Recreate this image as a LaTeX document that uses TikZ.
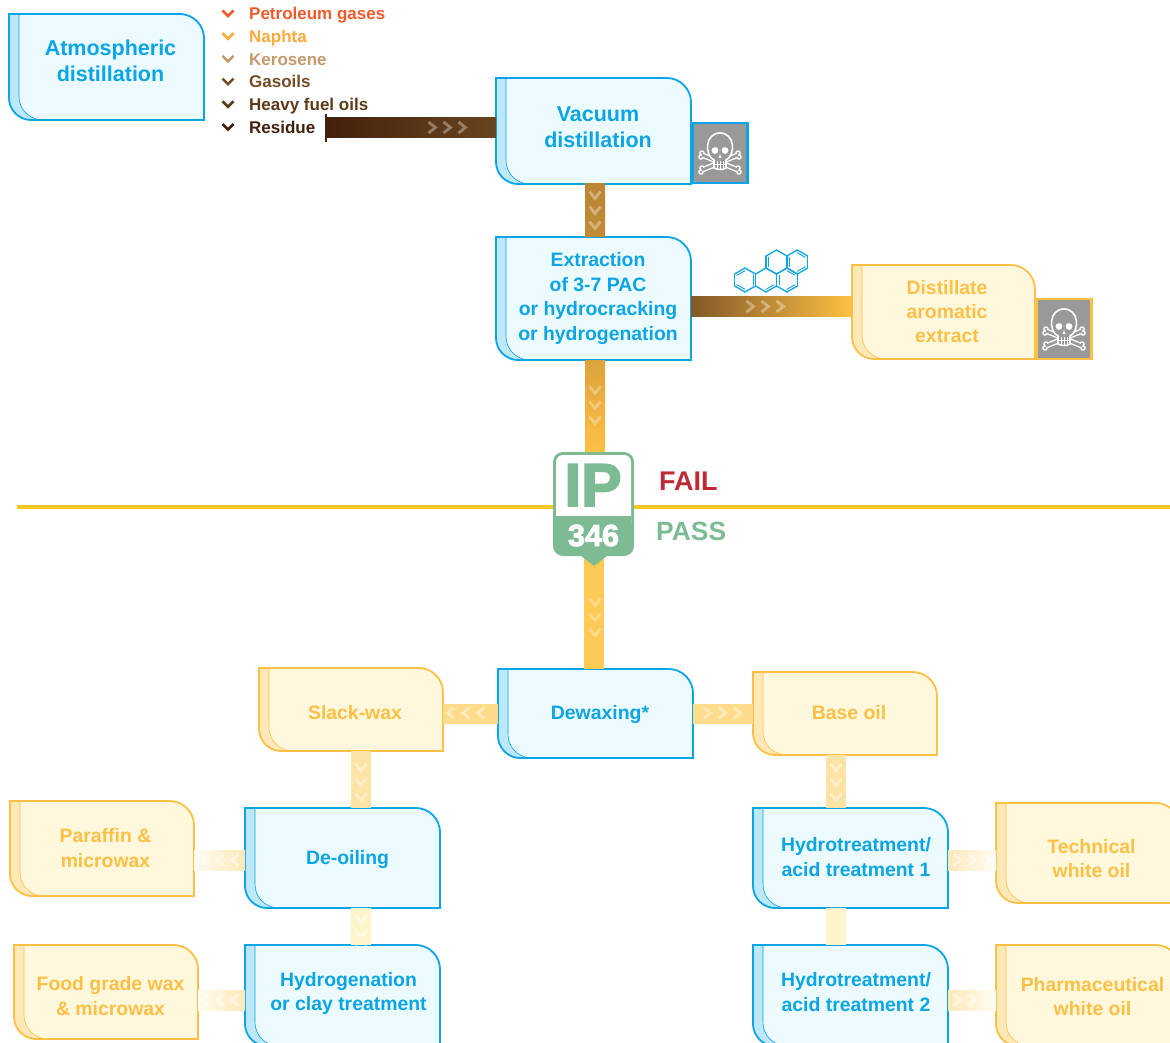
\documentclass[tikz,border=0pt]{standalone}
\usepackage{fontspec}
\setmainfont{Liberation Sans}
\newfontfamily\badgefont[BoldFeatures={FakeBold=3}]{Liberation Sans}
\usetikzlibrary{calc}
\definecolor{procline}{HTML}{0BA5E6}
\definecolor{procfill}{HTML}{EBFBFF}
\definecolor{procspine}{HTML}{BDE8FA}
\definecolor{prodline}{HTML}{FEC044}
\definecolor{prodfill}{HTML}{FFF8DC}
\definecolor{prodspine}{HTML}{FEE8B8}
\definecolor{passgreen}{HTML}{7DBB95}
\definecolor{failred}{HTML}{BE2A35}
\definecolor{cutyellow}{HTML}{FCC622}
\definecolor{skullgray}{HTML}{999999}
\definecolor{gases}{HTML}{F15A2B}
\definecolor{naphta}{HTML}{FBAA3B}
\definecolor{kerosene}{HTML}{C49A6C}
\definecolor{gasoils}{HTML}{754C24}
\definecolor{heavyoil}{HTML}{5C3A17}
\definecolor{residue}{HTML}{42210B}
\definecolor{flowmain}{HTML}{FDCB55}
\definecolor{flowside}{HTML}{FEDC8C}
\definecolor{flowwax}{HTML}{FEE3A6}
\definecolor{flowpale}{HTML}{FFF5CC}
\tikzset{
    bigtext/.style={font=\bfseries\fontsize{21.5}{26}\selectfont},
    smalltext/.style={font=\bfseries\fontsize{19.4}{24.4}\selectfont},
    listtext/.style={font=\bfseries\fontsize{17}{20}\selectfont,anchor=base west,inner sep=0pt},
    boxtext/.style={align=center,inner sep=0pt},
    flowbar/.style={line width=20pt},
    benzring/.style={draw=procline,line width=1.3pt,line cap=round},
    chevs/.pic={
        \foreach \d in {-15,0,15}
            \draw[pic actions] (\d-3.5,-5.5) -- (\d+3.5,0) -- (\d-3.5,5.5);
    },
    skull/.pic={
        \foreach \s in {-1,1}
        {
            \fill[white] (-18*\s,0) circle (2.8) (-19*\s,4) circle (2.8) (18*\s,15) circle (2.8) (19*\s,19) circle (2.8);
            \draw[white,line width=5.4pt] (-18*\s,2) -- (18*\s,17);
        }
        \foreach \s in {-1,1}
        {
            \fill[skullgray] (-18*\s,0) circle (1.4) (-19*\s,4) circle (1.4) (18*\s,15) circle (1.4) (19*\s,19) circle (1.4);
            \draw[skullgray,line width=2.6pt] (-18*\s,2) -- (18*\s,17);
        }
        \draw[white,fill=skullgray,line width=1.6pt] (-6,7) .. controls (-16,2) and (-15,-20) .. (0,-20)
            .. controls (15,-20) and (16,2) .. (6,7) -- (6,15) .. controls (3,17) and (-3,17) .. (-6,15) -- cycle;
        \fill[white] (-5,-2.5) circle (3.4) (5,-2.5) circle (3.4);
        \fill[white] (0,1) -- (1.5,5) -- (-1.5,5) -- cycle;
        \foreach \t in {-3,0,3}
            \draw[white,line width=.6pt] (\t,8) -- (\t,16);
        \draw[white,line width=.6pt] (-6,11.5) -- (6,11.5);
    }
}
\newcommand{\hflow}[5]{\shade[left color=#4,right color=#5] (#1 |- 0,#3-10) rectangle (#2 |- 0,#3+10);}
\newcommand{\vflow}[5]{\shade[top color=#4,bottom color=#5] (#3-10,0 |- #1) rectangle (#3+10,0 |- #2);}
\begin{document}
\begin{tikzpicture}[x=1pt,y=-1pt]
    \path[use as bounding box] (0,0) rectangle (1170,1043);
    \clip (0,0) rectangle (1170,1043);
    \foreach \nm/\kind/\fnt/\xa/\ya/\xb/\yb/\tx/\ty/\txt in {
        atm/proc/bigtext/9/14/204/120/110.5/60.5/{Atmospheric\\distillation},
        vac/proc/bigtext/496/78/691/184/598/127/{Vacuum\\distillation},
        extr/proc/smalltext/496/237/691/360/598/298.5/{Extraction\\of 3-7 PAC\\or hydrocracking\\or hydrogenation},
        dae/prod/smalltext/852/265/1035/359/947/311.5/{Distillate\\aromatic\\extract},
        dewax/proc/smalltext/498/669/693/758/600/715/{Dewaxing*},
        slack/prod/smalltext/259/668/443/751/355/713/{Slack-wax},
        base/prod/smalltext/753/672/937/755/849/713/{Base oil},
        deoil/proc/smalltext/245/808/440/908/347.5/860/{De-oiling},
        hydrog/proc/smalltext/245/945/440/1046/348.5/993.5/{Hydrogenation\\or clay treatment},
        paraffin/prod/smalltext/10/801/194/896/105.5/848/{Paraffin \&\\microwax},
        food/prod/smalltext/14/945/198/1039/110.5/996/{Food grade wax\\\& microwax},
        hydone/proc/smalltext/753/808/948/908/856/857/{Hydrotreatment/\\acid treatment 1},
        hydtwo/proc/smalltext/753/945/948/1046/856/992/{Hydrotreatment/\\acid treatment 2},
        tech/prod/smalltext/996/803/1180/903/1091.5/858.5/{Technical\\white oil},
        pharm/prod/smalltext/996/945/1180/1046/1092.5/996.5/{Pharmaceutical\\white oil}}
    {
        \node[minimum width={(\xb-\xa)*1pt},minimum height={(\yb-\ya)*1pt},inner sep=0pt,outer sep=0pt] (\nm) at ({(\xa+\xb)/2},{(\ya+\yb)/2}) {};
        \fill[fill=\kind fill] (\xa,\ya) -- (\xb-24,\ya) .. controls (\xb-11,\ya) and (\xb,\ya+11) .. (\xb,\ya+24) -- (\xb,\yb) -- (\xa+22,\yb) .. controls (\xa+10,\yb) and (\xa,\yb-10) .. (\xa,\yb-22) -- cycle;
        \draw[draw=\kind line,fill=\kind spine,line width=.6pt] (\xa,\ya) -- (\xa+10,\ya) -- (\xa+10,\yb-24) .. controls (\xa+10,\yb-10) and (\xa+20,\yb-2) .. (\xa+31,\yb) -- (\xa+22,\yb) .. controls (\xa+10,\yb) and (\xa,\yb-10) .. (\xa,\yb-22) -- cycle;
        \draw[draw=\kind line,line width=1.8pt] (\xa,\ya) -- (\xb-24,\ya) .. controls (\xb-11,\ya) and (\xb,\ya+11) .. (\xb,\ya+24) -- (\xb,\yb) -- (\xa+22,\yb) .. controls (\xa+10,\yb) and (\xa,\yb-10) .. (\xa,\yb-22) -- cycle;
        \node[boxtext,\fnt,text=\kind line] (\nm-label) at (\tx,\ty) {\txt};
    }
    \foreach \col/\txt [count=\i] in {gases/Petroleum gases,naphta/Naphta,kerosene/Kerosene,gasoils/Gasoils,heavyoil/Heavy fuel oils,residue/Residue}
    {
        \node[listtext,text=\col] (cut\i) at (249,{19.5+22.8*(\i-1)}) {\txt};
        \draw[\col,line width=2.6pt] (222.5,{10.5+22.7*(\i-1)}) -- (228,{16+22.7*(\i-1)}) -- (233.5,{10.5+22.7*(\i-1)});
    }
    \coordinate (residueout) at (326,127.5);
    \coordinate (lowtrunk) at (594,0);
    \draw[residue,line width=1.5pt] (residueout |- 0,114) -- (residueout |- 0,142);
    \hflow{residueout}{vac.west}{127.5}{residue}{gasoils!90!black}
    \vflow{vac.south}{extr.north}{595}{gasoils!50!prodline}{gasoils!45!prodline}
    \hflow{extr.east}{dae.west}{306}{gasoils!90!prodline}{prodline}
    \draw[cutyellow,line width=3.5pt] (17,507) -- (1170,507);
    \node[inner sep=0pt,outer sep=0pt,minimum width=81pt,minimum height=105pt] (badge) at (593.5,503.5) {};
    \vflow{extr.south}{badge.north}{595}{gasoils!25!prodline}{prodline}
    \draw[flowbar,flowmain] (lowtrunk |- badge.south) -- (lowtrunk |- dewax.north);
    \draw[flowbar,flowside] (dewax.west) -- (dewax.west -| slack.east);
    \draw[flowbar,flowside] (dewax.east) -- (dewax.east -| base.west);
    \draw[flowbar,flowwax] (361,0 |- slack.south) -- (361,0 |- deoil.north);
    \draw[flowbar,flowwax] (836,0 |- base.south) -- (836,0 |- hydone.north);
    \draw[flowbar,flowpale] (361,0 |- deoil.south) -- (361,0 |- hydrog.north);
    \draw[flowbar,flowpale] (836,0 |- hydone.south) -- (836,0 |- hydtwo.north);
    \hflow{paraffin.east}{deoil.west}{860}{prodfill!40}{prodspine}
    \hflow{food.east}{hydrog.west}{1000}{prodfill!40}{prodspine}
    \hflow{hydone.east}{tech.west}{860}{prodspine}{prodfill!30}
    \hflow{hydtwo.east}{pharm.west}{1000}{prodspine}{prodfill!30}
    \foreach \x/\y/\r/\op in {447/127.5/0/.35,595/210/-90/.35,765/306.5/0/.35,595/405/-90/.3,595/617/-90/.3,466/713/180/.4,722/713/0/.4,361/782/-90/.4,836/782/-90/.4,220/860/180/.5,220/1000/180/.5,972/860/0/.5,972/1000/0/.5,361/934/-90/.5}
        \pic[draw=white,draw opacity=\op,line width=2.8pt,rotate=\r] at (\x,\y) {chevs};
    \fill[passgreen,rounded corners=10pt] (553,452) rectangle (634,556);
    \fill[passgreen] (580,555) -- (608,555) -- (594,566) -- cycle;
    \fill[white,rounded corners=7pt] (556,455) rectangle (631,530);
    \fill[passgreen] (556,516) rectangle (631,531);
    \node[inner sep=0pt,text=passgreen,font=\badgefont\bfseries\fontsize{60.5}{62}\selectfont,anchor=base] (iptext) at (593,506) {IP};
    \node[inner sep=0pt,text=white,font=\badgefont\bfseries\fontsize{30.5}{30}\selectfont,anchor=base] (ipnum) at (593.5,546) {346};
    \node[inner sep=0pt,text=failred,font=\bfseries\fontsize{27}{30}\selectfont,anchor=base west] (fail) at (659,490.5) {FAIL};
    \node[inner sep=0pt,text=passgreen,font=\bfseries\fontsize{26.4}{30}\selectfont,anchor=base west] (pass) at (656,540.5) {PASS};
    \foreach \nm/\kind/\cx/\cy in {vacskull/proc/720/153,daeskull/prod/1064/329}
    {
        \node[draw=\kind line,fill=skullgray,line width=2.5pt,minimum width=55pt,minimum height=60pt,inner sep=0pt] (\nm) at (\cx,\cy) {};
        \pic at (\nm) {skull};
    }
    \foreach \cx/\cy/\bonds in {745/280/{90,210,330},766/280/{30},787/280/{30,150,270},776.5/262/{150},797.3/262/{30,150,270}}
    {
        \foreach \a in {30,90,...,330}
            \draw[benzring] (\cx,\cy) ++(\a:12) -- ++(\a+120:12);
        \foreach \a in \bonds
            \draw[benzring,line width=.9pt] (\cx,\cy) ++(\a:9.3) -- ++(\a+120:9.3);
    }
\end{tikzpicture}
\end{document}
